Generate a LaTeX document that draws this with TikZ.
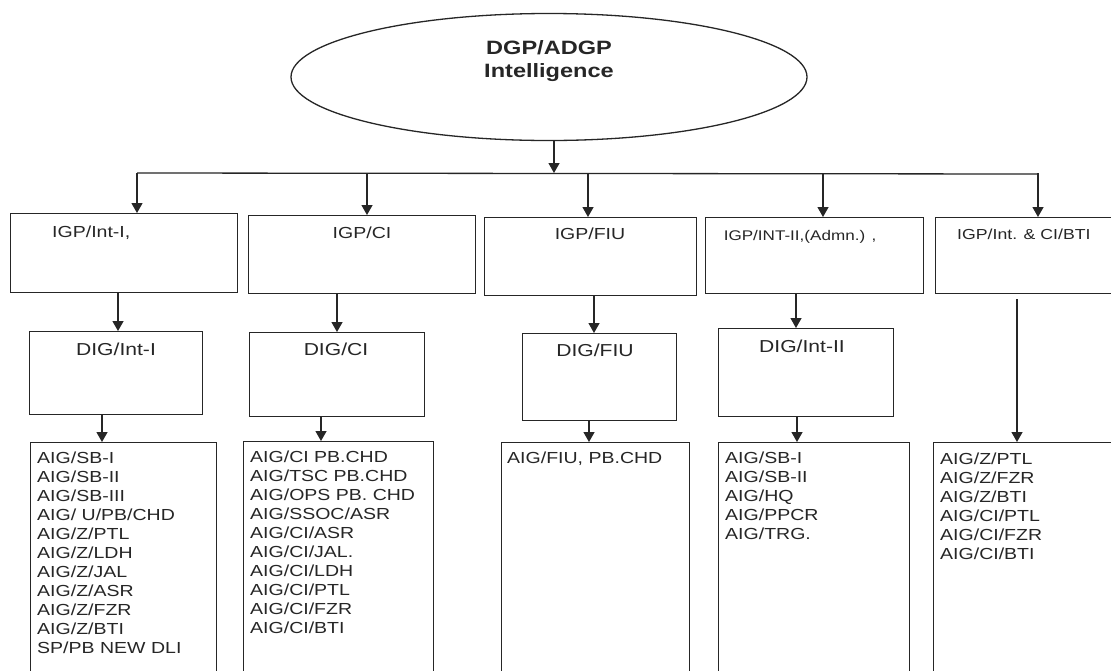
\documentclass[tikz,border=0pt]{standalone}
\usepackage{fontspec}
\setmainfont{Liberation Sans}[FakeStretch=1.22]
\usetikzlibrary{arrows.meta, shapes.geometric}
\definecolor{figK}{RGB}{38,38,38}
\tikzset{
  box/.style={draw=figK, line width=1.3pt, rectangle, inner sep=0pt, anchor=north west},
  arr/.style={draw=figK, line width=1.3pt, -{Triangle[width=11pt,length=10pt]}},
  ln/.style={draw=figK, line width=1.3pt},
  hd/.style={text=figK, font=\fontsize{16}{19}\selectfont, inner sep=0pt},
  lst/.style={text=figK, font=\fontsize{16}{19}\selectfont, inner sep=0pt, anchor=north west, align=left}
}
\begin{document}
\begin{tikzpicture}[x=1pt, y=-1pt]
\useasboundingbox (0,0) rectangle (1111,670);
\clip (0,0) rectangle (1111,670);
\fill[white] (0,0) rectangle (1111,670);
% Top: the head office
\node[ellipse, draw=figK, line width=1.3pt, minimum width=516, minimum height=127, inner sep=0pt] (top) at (549,77) {};
\node[text=figK, font=\fontsize{19.3}{23}\selectfont\bfseries, align=center, inner sep=0pt, anchor=north] (toptxt) at (549,40) {DGP/ADGP\\Intelligence};
% Row 1: IGP boxes
\node[box, minimum width=227, minimum height=79] (igp1) at (10,213) {};
\node[box, minimum width=227, minimum height=78] (igp2) at (248,215) {};
\node[box, minimum width=212, minimum height=78] (igp3) at (484,217) {};
\node[box, minimum width=218, minimum height=76] (igp4) at (705,217) {};
\node[box, minimum width=200, minimum height=76] (igp5) at (935,217) {};
\node[hd, anchor=base west] (igp1txt) at (52,237) {IGP/Int-I,};
\node[hd, anchor=base] (igp2txt) at (362,238) {IGP/CI};
\node[hd, anchor=base] (igp3txt) at (590,239) {IGP/FIU};
\node[hd, font=\fontsize{14}{17}\selectfont, anchor=base] (igp4txt) at (800,240) {IGP/INT-II,(Admn.) ,};
\node[hd, font=\fontsize{14.5}{17}\selectfont, anchor=base west] (igp5txt) at (957,239) {IGP/Int. \& CI/BTI};
% Row 2: DIG boxes
\node[box, minimum width=173, minimum height=83] (dig1) at (29,331) {};
\node[box, minimum width=175, minimum height=84] (dig2) at (249,332) {};
\node[box, minimum width=154, minimum height=87] (dig3) at (522,333) {};
\node[box, minimum width=175, minimum height=88] (dig4) at (718,328) {};
\node[hd, font=\fontsize{17.3}{20}\selectfont, anchor=base] (dig1txt) at (116,355) {DIG/Int-I};
\node[hd, font=\fontsize{17.3}{20}\selectfont, anchor=base] (dig2txt) at (336,355) {DIG/CI};
\node[hd, font=\fontsize{17.3}{20}\selectfont, anchor=base] (dig3txt) at (595,356) {DIG/FIU};
\node[hd, font=\fontsize{17.3}{20}\selectfont, anchor=base] (dig4txt) at (802,352) {DIG/Int-II};
% Row 3: AIG lists (run off the page)
\node[box, minimum width=186, minimum height=250] (aig1) at (30,442) {};
\node[box, minimum width=190, minimum height=250] (aig2) at (243,441) {};
\node[box, minimum width=188, minimum height=250] (aig3) at (501,442) {};
\node[box, minimum width=191, minimum height=250] (aig4) at (718,442) {};
\node[box, minimum width=200, minimum height=250] (aig5) at (933,442) {};
\node[lst] (aig1txt) at (37,452) {AIG/SB-I\\AIG/SB-II\\AIG/SB-III\\AIG/ U/PB/CHD\\AIG/Z/PTL\\AIG/Z/LDH\\AIG/Z/JAL\\AIG/Z/ASR\\AIG/Z/FZR\\AIG/Z/BTI\\SP/PB NEW DLI};
\node[lst] (aig2txt) at (250,451) {AIG/CI PB.CHD\\AIG/TSC PB.CHD\\AIG/OPS PB. CHD\\AIG/SSOC/ASR\\AIG/CI/ASR\\AIG/CI/JAL.\\AIG/CI/LDH\\AIG/CI/PTL\\AIG/CI/FZR\\AIG/CI/BTI};
\node[lst] (aig3txt) at (507,452) {AIG/FIU, PB.CHD};
\node[lst] (aig4txt) at (725,452) {AIG/SB-I\\AIG/SB-II\\AIG/HQ\\AIG/PPCR\\AIG/TRG.};
\node[lst] (aig5txt) at (940,453) {AIG/Z/PTL\\AIG/Z/FZR\\AIG/Z/BTI\\AIG/CI/PTL\\AIG/CI/FZR\\AIG/CI/BTI};
% connectors
\coordinate (bus0) at (554,173);
\coordinate (busL) at (137,173);
\coordinate (busR) at (1038,174);
\draw[arr] (top.south -| bus0) -- (bus0);
\draw[ln] (busL) -- (busR);
\foreach \x/\n in {137/igp1, 367/igp2, 588/igp3, 823/igp4, 1038/igp5}
  \draw[arr] (\x,173) -- (\n.north -| \x,0);
\foreach \x/\u/\d in {118/igp1/dig1, 337/igp2/dig2, 594/igp3/dig3, 796/igp4/dig4,
                      102/dig1/aig1, 321/dig2/aig2, 589/dig3/aig3, 797/dig4/aig4}
  \draw[arr] (\u.south -| \x,0) -- (\d.north -| \x,0);
\draw[arr] ([yshift=-5]igp5.south -| 1017,0) -- (aig5.north -| 1017,0);
\end{tikzpicture}
\end{document}
